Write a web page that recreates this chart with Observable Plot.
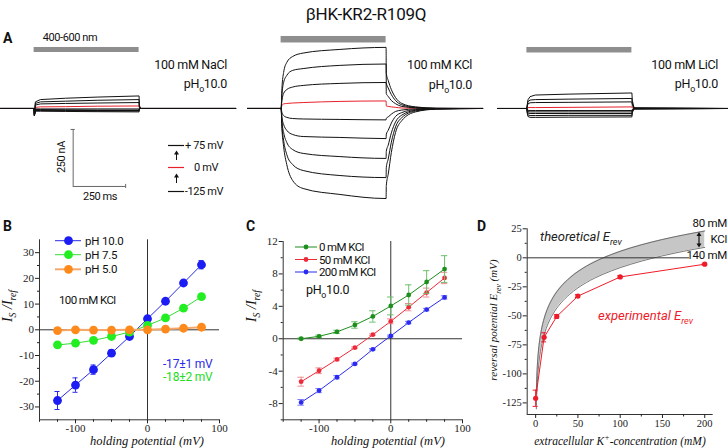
<!DOCTYPE html>
<html><head><meta charset="utf-8">
<script src="https://cdn.jsdelivr.net/npm/d3@7"></script>
<script src="https://cdn.jsdelivr.net/npm/@observablehq/plot@0.6"></script>
<style>
body{margin:0;background:#fff;}
#fig{position:relative;width:728px;height:448px;overflow:hidden;background:#fff;}
</style></head>
<body><div id="fig"></div>
<script>
// ---------------- DATA ----------------
// Panel A: voltage steps (mV) and photocurrent traces (nA) sampled at time points (ms, light on at 0)
const voltages = [75, 50, 25, 0, -25, -50, -75, -100, -125];
const lightOn = 0, lightOff = 500;
const tNaCl = [-160, 0, 1.5, 6, 30, 150, 300, 500, 501, 506, 960];
const iNaCl = [
  [0,0,-30,29,39,45,50,55,16,0,0],
  [0,0,-30,22,29,32,36,39,12,0,0],
  [0,0,-30,15,20,22,24,26,8,0,0],
  [0,0,-30,5,7,8,10,11,3,0,0],
  [0,0,-30,-2,-2,-2,-2,-2,-1,0,0],
  [0,0,-30,-4,-5,-6,-7,-7,-2,0,0],
  [0,0,-30,-7,-7,-8,-9,-9,-3,0,0],
  [0,0,-30,-9,-9,-10,-11,-11,-3,0,0],
  [0,0,-30,-12,-12,-13,-14,-15,-4,0,0]
];
const tKCl = [-160, 0, 4, 12, 27, 55, 105, 280, 500, 501, 510, 525, 545, 575, 640, 740, 960];
const iKCl = [
  [0,0,88,158,202,228,243,259,268,154,123,83,48,22,7,1,0],
  [0,0,61,114,145,167,175,189,195,111,90,61,35,16,5,1,0],
  [0,0,35,66,83,94,101,110,114,65,53,35,21,9,3,0,0],
  [0,0,13,20,22,24,26,31,33,11,9,7,5,2,1,0,0],
  [0,0,-18,-31,-39,-44,-46,-48,-50,-43,-37,-25,-13,-7,-2,0,0],
  [0,0,-39,-70,-96,-114,-123,-127,-132,-113,-96,-64,-35,-18,-5,-1,0],
  [0,0,-57,-105,-149,-180,-197,-211,-219,-188,-161,-107,-59,-29,-8,-2,0],
  [0,0,-75,-140,-202,-246,-272,-294,-303,-259,-222,-148,-81,-40,-11,-2,0],
  [0,0,-88,-167,-246,-316,-351,-377,-395,-338,-289,-193,-105,-53,-15,-3,0]
];
const tLiCl = [-140, 0, 1.5, 5, 15, 40, 200, 500, 502, 510, 960];
const iLiCl = [
  [0,0,15,38,52,59,63,68,35,3,0],
  [0,0,12,30,37,39,41,44,20,2,0],
  [0,0,10,20,25,26,27,29,13,1,0],
  [0,0,2,4,4,4,5,7,3,0,0],
  [0,0,-5,-8,-9,-9,-9,-9,-4,0,0],
  [0,0,-8,-14,-15,-15,-15,-15,-7,-1,0],
  [0,0,-12,-20,-22,-22,-22,-22,-10,-1,0],
  [0,0,-16,-28,-31,-31,-30,-30,-14,-2,0],
  [0,0,-20,-35,-39,-39,-38,-37,-18,-2,0]
];
const scaleBarMs = 250, scaleBarNA = 250;

// Panel B: I-V at different pH (100 mM KCl)
const holdB = [-125, -100, -75, -50, -25, 0, 25, 50, 75];
const pH100 = [-27.5, -21.5, -15.5, -9.1, -2.6, 4.3, 11.1, 18.2, 25.3];
const pH100err = [3.5, 2.8, 1.8, 1.2, 0.6, 0.8, 0.6, 1.0, 1.6];
const pH75 = [-5.9, -5.2, -4.1, -2.6, -0.9, 1.7, 4.6, 8.4, 12.9];
const pH75err = [0.4, 0.3, 0.3, 0.3, 0.2, 0.3, 0.3, 0.4, 0.5];
const pH50 = [-0.3, 0, -0.1, -0.1, 0, 0, 0.3, 0.6, 1.0];
const pH50err = [0.2, 0.2, 0.2, 0.2, 0.2, 0.2, 0.2, 0.2, 0.3];
const ticksBy = [-30, -20, -10, 0, 10, 20, 30];
const ticksBx = [-100, 0, 100];

// Panel C: I-V at different KCl (pHo 10.0)
const holdC = [-125, -100, -75, -50, -25, 0, 25, 50, 75];
const kcl0 = [0, 0.3, 0.85, 1.7, 2.75, 4.05, 5.4, 7.0, 8.6];
const kcl0err = [0.1, 0.15, 0.2, 0.4, 0.7, 1.1, 1.25, 1.4, 1.65];
const kcl50 = [-5.3, -3.95, -2.55, -1.1, 0.5, 2.15, 3.9, 5.7, 7.5];
const kcl50err = [0.55, 0.35, 0.15, 0.1, 0.1, 0.3, 0.45, 0.55, 0.7];
const kcl200 = [-7.85, -6.4, -4.75, -3.1, -1.3, 0.35, 2.0, 3.6, 5.1];
const kcl200err = [0.35, 0.25, 0.2, 0.1, 0.1, 0.1, 0.15, 0.15, 0.2];
const ticksCy = [-8, -4, 0, 4, 8, 12];
const ticksCx = [-100, 0, 100];

// Panel D: reversal potential vs extracellular K+
const kTheory = [0.8, 1, 2, 3, 5, 7.5, 10, 15, 20, 30, 40, 50, 60, 80, 100, 125, 150, 175, 200];
const eTheory80 = [-116, -110.4, -92.9, -82.7, -69.8, -59.6, -52.4, -42.2, -34.9, -24.7, -17.5, -11.8, -7.2, 0, 5.6, 11.2, 15.8, 19.7, 23.1];
const eTheory140 = [-130.1, -124.5, -107, -96.8, -83.9, -73.7, -66.5, -56.3, -49, -38.8, -31.6, -25.9, -21.3, -14.1, -8.5, -2.9, 1.7, 5.6, 9];
const kExp = [0, 10, 25, 50, 100, 200];
const eExp = [-121, -68.5, -50.5, -33, -16.5, -5.5];
const eExpErr = [7, 3.9, 1.5, 1.2, 1, 0.8];
const ticksDy = [-125, -100, -75, -50, -25, 0, 25];
const ticksDx = [0, 50, 100, 150, 200];

// ---------------- STYLE / LAYOUT ----------------
const SANS = "Roboto, 'Liberation Sans', Arial, sans-serif";
const SERIF = "'Liberation Serif', 'Times New Roman', serif";
const RED = "#e8202a";
const fig = document.getElementById("fig");
function place(el, left, top) {
  el.style.position = "absolute"; el.style.left = left + "px"; el.style.top = top + "px";
  el.style.overflow = "visible";
  fig.appendChild(el);
}
const PXMS = 0.21;             // px per ms
const YDOM = [-403.5, 342];    // nA, 170 px tall

function tracePlot(T, I, xDomain, curve, bar, extra = []) {
  const rows = [];
  I.forEach((tr, j) => tr.forEach((v, k) => rows.push({t: T[k], i: v, mv: voltages[j]})));
  return Plot.plot({
    width: (xDomain[1] - xDomain[0]) * PXMS, height: 170, margin: 0,
    x: {domain: xDomain, axis: null}, y: {domain: YDOM, axis: null},
    style: {background: "transparent", overflow: "visible", fontFamily: SANS},
    marks: [
      Plot.rect([{a: lightOn, b: lightOff, lo: bar[0], hi: bar[1]}], {x1: "a", x2: "b", y1: "lo", y2: "hi", fill: "#8e8e8e"}),
      Plot.line(rows.filter(d => d.mv === 0), {x: "t", y: "i", stroke: RED, strokeWidth: 1, curve}),
      Plot.line(rows.filter(d => d.mv !== 0), {x: "t", y: "i", z: "mv", stroke: "#111", strokeWidth: 1, curve}),
      ...extra
    ]
  });
}

// scale bar (drawn in A1 data units)
const sbT = 186, sbTop = -92, sbBot = sbTop - scaleBarNA;
const scaleMarks = [
  Plot.ruleX([sbT], {y1: sbTop, y2: sbBot, stroke: "#666"}),
  Plot.ruleY([sbBot], {x1: sbT, x2: sbT + scaleBarMs, stroke: "#666"}),
  Plot.ruleY([sbTop], {x1: sbT - 10, x2: sbT + 10, stroke: "#666"}),
  Plot.ruleX([sbT + scaleBarMs], {y1: sbBot - 9, y2: sbBot + 9, stroke: "#666"})
];

place(tracePlot(tNaCl, iNaCl, [-160, 960], "linear", [245.6, 267.5], scaleMarks), 0.4, 30);
place(tracePlot(tKCl, iKCl, [-160, 960], "monotone-x", [287.3, 315.8]), 247.4, 30);
place(tracePlot(tLiCl, iLiCl, [-140, 960], "linear", [243.4, 267.5]), 497.3, 30);

// ------------ helpers for I-V panels -------------
const mk = (xs, ys, es) => xs.map((v, i) => ({v, y: ys[i], e: es[i]}));
function seriesMarks(rows, {line, dot, err, r, sw = 1, cap}) {
  return [
    Plot.line(rows, {x: "v", y: "y", stroke: line, strokeWidth: sw}),
    Plot.ruleX(rows, {x: "v", y1: d => d.y - d.e, y2: d => d.y + d.e, stroke: err}),
    Plot.ruleY(rows, {x1: d => d.v - cap, x2: d => d.v + cap, y: d => d.y + d.e, stroke: err}),
    Plot.ruleY(rows, {x1: d => d.v - cap, x2: d => d.v + cap, y: d => d.y - d.e, stroke: err}),
    Plot.dot(rows, {x: "v", y: "y", r, fill: dot, stroke: null})
  ];
}
const fmt = d => String(d);
const axStyle = {background: "transparent", overflow: "visible", fontFamily: SERIF, fontSize: "11px", color: "#222"};

// ------------ Panel B -------------
const B = Plot.plot({
  width: 235, height: 223, marginLeft: 39, marginRight: 16, marginTop: 14.3, marginBottom: 28.7,
  x: {domain: [-150, 100], label: null}, y: {domain: [-35, 35], label: null},
  style: axStyle,
  marks: [
    Plot.ruleX([-150], {stroke: "#333"}), Plot.ruleY([-35], {stroke: "#333"}),
    Plot.axisY({ticks: ticksBy, tickSize: 4, tickPadding: 1.5, tickFormat: fmt, label: null}),
    Plot.axisY({ticks: [-25, -15, -5, 5, 15, 25], tickSize: 2, tickFormat: () => "", label: null}),
    Plot.axisX({ticks: ticksBx, tickSize: 4, tickPadding: 0, tickFormat: fmt, label: null}),
    Plot.axisX({ticks: [-150, -125, -75, -50, -25, 25, 50, 75], tickSize: 2.5, tickFormat: () => "", label: null}),
    Plot.ruleX([0], {stroke: "#333"}), Plot.ruleY([0], {stroke: "#333"}),
    ...seriesMarks(mk(holdB, pH100, pH100err), {line: "#2a2ae8", dot: "#1c1cf5", err: "#2a2ae8", r: 4.4, cap: 3.5}),
    ...seriesMarks(mk(holdB, pH75, pH75err), {line: "#33dd33", dot: "#22ee22", err: "#33dd33", r: 4.4, cap: 3.5}),
    ...seriesMarks(mk(holdB, pH50, pH50err), {line: "#f6a86a", dot: "#ff8a1c", err: "#f6a86a", r: 4.4, sw: 2, cap: 3.5})
  ]
});
place(B, 0, 225);

// ------------ Panel C -------------
const C = Plot.plot({
  width: 230, height: 223, marginLeft: 42.7, marginRight: 8, marginTop: 16, marginBottom: 28.7,
  x: {domain: [-150, 100], label: null}, y: {domain: [-10, 12], label: null},
  style: axStyle,
  marks: [
    Plot.ruleX([-150], {stroke: "#333"}), Plot.ruleY([-10], {stroke: "#333"}),
    Plot.axisY({ticks: ticksCy, tickSize: 4, tickPadding: 1.5, tickFormat: fmt, label: null}),
    Plot.axisY({ticks: [-10, -6, -2, 2, 6, 10], tickSize: 2, tickFormat: () => "", label: null}),
    Plot.axisX({ticks: ticksCx, tickSize: 4, tickPadding: 0, tickFormat: fmt, label: null}),
    Plot.axisX({ticks: [-150, -125, -75, -50, -25, 25, 50, 75], tickSize: 2.5, tickFormat: () => "", label: null}),
    Plot.ruleX([0], {stroke: "#333"}), Plot.ruleY([0], {stroke: "#333"}),
    ...seriesMarks(mk(holdC, kcl200, kcl200err), {line: "#2a2af0", dot: "#2a2af0", err: "#7a7aff", r: 2.4, cap: 4.5}),
    ...seriesMarks(mk(holdC, kcl50, kcl50err), {line: "#ee2a3a", dot: "#ee2a3a", err: "#f08a94", r: 2.4, cap: 4.5}),
    ...seriesMarks(mk(holdC, kcl0, kcl0err), {line: "#1d8f1d", dot: "#1d8f1d", err: "#6cbf6c", r: 2.4, cap: 4.5})
  ]
});
place(C, 240, 225);

// ------------ Panel D -------------
const theory = kTheory.map((k, i) => ({k, hi: eTheory80[i], lo: eTheory140[i]}));
const expRows = mk(kExp, eExp, eExpErr);
const D = Plot.plot({
  width: 238, height: 233, marginLeft: 36.7, marginRight: 15.3, marginTop: 13.3, marginBottom: 34,
  x: {domain: [-10, 210], label: null}, y: {domain: [-135, 25], label: null},
  style: {...axStyle, fontSize: "10.5px"},
  marks: [
    Plot.areaY(theory, {x: "k", y1: "lo", y2: "hi", fill: "#c6c6c6", curve: "monotone-x", clip: true}),
    Plot.line(theory, {x: "k", y: "hi", stroke: "#555", strokeWidth: 0.8, curve: "monotone-x", clip: true}),
    Plot.line(theory, {x: "k", y: "lo", stroke: "#555", strokeWidth: 0.8, curve: "monotone-x", clip: true}),
    Plot.ruleX([-10], {stroke: "#333"}), Plot.ruleY([-135], {stroke: "#333"}),
    Plot.axisY({ticks: ticksDy, tickSize: 4, tickPadding: 1.5, tickFormat: fmt, label: null}),
    Plot.axisY({ticks: [-112.5, -87.5, -62.5, -37.5, -12.5, 12.5], tickSize: 2, tickFormat: () => "", label: null}),
    Plot.axisX({ticks: ticksDx, tickSize: 4, tickPadding: 1, tickFormat: fmt, label: null}),
    Plot.axisX({ticks: [25, 75, 125, 175], tickSize: 2.5, tickFormat: () => "", label: null}),
    Plot.ruleY([0], {x1: -10, x2: 182, stroke: "#333"}),
    ...seriesMarks(expRows, {line: "#ee1c2a", dot: "#ee1c2a", err: "#ee1c2a", r: 2.6, cap: 3})
  ]
});
place(D, 490, 215);

// ------------ Overlay annotations -------------
const ov = d3.create("svg").attr("width", 728).attr("height", 448)
  .style("position", "absolute").style("left", "0px").style("top", "0px").style("pointer-events", "none");
fig.appendChild(ov.node());

function label(x, y, parts, o = {}) {
  const size = o.size || 12;
  const t = ov.append("text")
    .attr("transform", `translate(${x},${y})` + (o.rotate ? ` rotate(${o.rotate})` : ""))
    .attr("font-family", o.family || SANS).attr("font-size", size)
    .attr("text-anchor", o.anchor || "start").attr("fill", o.fill || "#111");
  if (o.italic) t.attr("font-style", "italic");
  if (o.weight) t.attr("font-weight", o.weight);
  if (o.ls != null) t.attr("letter-spacing", o.ls);
  let shift = 0;
  for (const p of [].concat(parts)) {
    const s = typeof p === "string" ? {t: p} : p;
    const target = s.sub ? size * 0.32 : s.sup ? -size * 0.4 : 0;
    const ts = t.append("tspan").text(s.t).attr("dy", target - shift);
    if (s.sub || s.sup) ts.attr("font-size", size * 0.7);
    shift = target;
  }
  return t;
}
function seg(x1, y1, x2, y2, stroke = "#111", w = 1) {
  ov.append("line").attr("x1", x1).attr("y1", y1).attr("x2", x2).attr("y2", y2).attr("stroke", stroke).attr("stroke-width", w);
}
function arrowHead(x, y, dir) { // dir -1 up, 1 down
  ov.append("path").attr("d", `M${x - 2.5},${y - dir * 4}L${x},${y}L${x + 2.5},${y - dir * 4}Z`).attr("fill", "#111");
}

// Title and panel letters
label(366, 20, "βHK-KR2-R109Q", {size: 17, anchor: "middle", ls: -0.2});
label(3, 43, "A", {size: 14, weight: "bold"});
label(3, 231, "B", {size: 14, weight: "bold"});
label(246, 231, "C", {size: 14, weight: "bold"});
label(477, 231, "D", {size: 14, weight: "bold"});

// Panel A texts
label(70, 41, "400-600 nm", {size: 11, anchor: "middle", ls: -0.4});
const pHo = ["pH", {t: "o", sub: true}, "10.0"];
label(227, 69, "100 mM NaCl", {size: 12.5, anchor: "end", ls: -0.3});
label(227, 88, pHo, {size: 12.5, anchor: "end", ls: -0.3});
label(472, 69, "100 mM KCl", {size: 12.5, anchor: "end", ls: -0.3});
label(472, 89, pHo, {size: 12.5, anchor: "end", ls: -0.3});
label(718, 69, "100 mM LiCl", {size: 12.5, anchor: "end", ls: -0.3});
label(718, 88, pHo, {size: 12.5, anchor: "end", ls: -0.3});
label(65, 157, "250 nA", {size: 11, anchor: "middle", rotate: -90, ls: -0.4});
label(100, 200, "250 ms", {size: 11, anchor: "middle", ls: -0.4});
seg(168, 145.5, 184, 145.5, "#111", 1.2);
seg(168, 167.5, 184, 167.5, RED, 1.2);
seg(168, 191.5, 184, 191.5, "#111", 1.2);
seg(176.5, 160, 176.5, 152); arrowHead(176.5, 150.5, -1);
seg(176.5, 183, 176.5, 175); arrowHead(176.5, 173.5, -1);
label(223, 149, "+ 75 mV", {size: 11, anchor: "end", ls: -0.4});
label(218, 171, "0 mV", {size: 11, anchor: "end", ls: -0.4});
label(223, 195, "-125 mV", {size: 11, anchor: "end", ls: -0.4});

// Panel B legend / texts
const legB = [["pH 10.0", "#2a2ae8", "#1c1cf5", 1, 240.7], ["pH 7.5", "#33dd33", "#22ee22", 1, 254.7], ["pH 5.0", "#f6a86a", "#ff8a1c", 2, 269.3]];
for (const [s, lc, dc, w, y] of legB) {
  seg(55, y, 81, y, lc, w);
  ov.append("circle").attr("cx", 68.5).attr("cy", y).attr("r", 4.4).attr("fill", dc);
  label(85, y + 4, s, {size: 11.5, ls: -0.2});
}
label(59, 304, "100 mM KCl", {size: 11.5, ls: -0.6});
label(163, 368, "-17±1 mV", {size: 12, fill: "#2a2ae8", ls: -0.2});
label(163, 381, "-18±2 mV", {size: 12, fill: "#22dd22", ls: -0.2});
label(12, 306, ["I", {t: "S", sub: true}, " /I", {t: "ref", sub: true}], {size: 14, family: SERIF, italic: true, anchor: "middle", rotate: -90});
label(147, 444.5, "holding potential (mV)", {size: 12.5, family: SERIF, italic: true, anchor: "middle"});

// Panel C legend / texts
const legC = [["0 mM KCl", "#1d8f1d", 247], ["50 mM KCl", "#ee2a3a", 259.5], ["200 mM KCl", "#2a2af0", 272]];
for (const [s, c, y] of legC) {
  seg(295, y, 317, y, c, 1);
  ov.append("circle").attr("cx", 306).attr("cy", y).attr("r", 2.4).attr("fill", c);
  label(319, y + 4, s, {size: 11.5, ls: -0.6});
}
label(306, 294, pHo, {size: 12.5, ls: -0.3});
label(256, 306, ["I", {t: "S", sub: true}, " /I", {t: "ref", sub: true}], {size: 14, family: SERIF, italic: true, anchor: "middle", rotate: -90});
label(388, 444.5, "holding potential (mV)", {size: 12.5, family: SERIF, italic: true, anchor: "middle"});

// Panel D texts
label(540, 241, ["theoretical E", {t: "rev", sub: true}], {size: 13, italic: true, fill: "#222"});
label(598, 320, ["experimental E", {t: "rev", sub: true}], {size: 13, italic: true, fill: "#ee1c2a"});
label(727, 227, "80 mM", {size: 11.5, anchor: "end", ls: -0.3});
label(727, 243, "KCl", {size: 11.5, anchor: "end", ls: -0.3});
label(727, 259, "140 mM", {size: 11.5, anchor: "end", ls: -0.3});
seg(699, 235, 699, 244.5, "#111", 1.2); arrowHead(699, 232, -1); arrowHead(699, 247.5, 1);
label(497, 320, ["reversal potential E", {t: "rev", sub: true}, " (mV)"], {size: 11, family: SERIF, italic: true, anchor: "middle", rotate: -90});
label(620, 445, ["extracellular K", {t: "+", sup: true}, "-concentration (mM)"], {size: 11.5, family: SERIF, italic: true, anchor: "middle"});
</script>
</body></html>
